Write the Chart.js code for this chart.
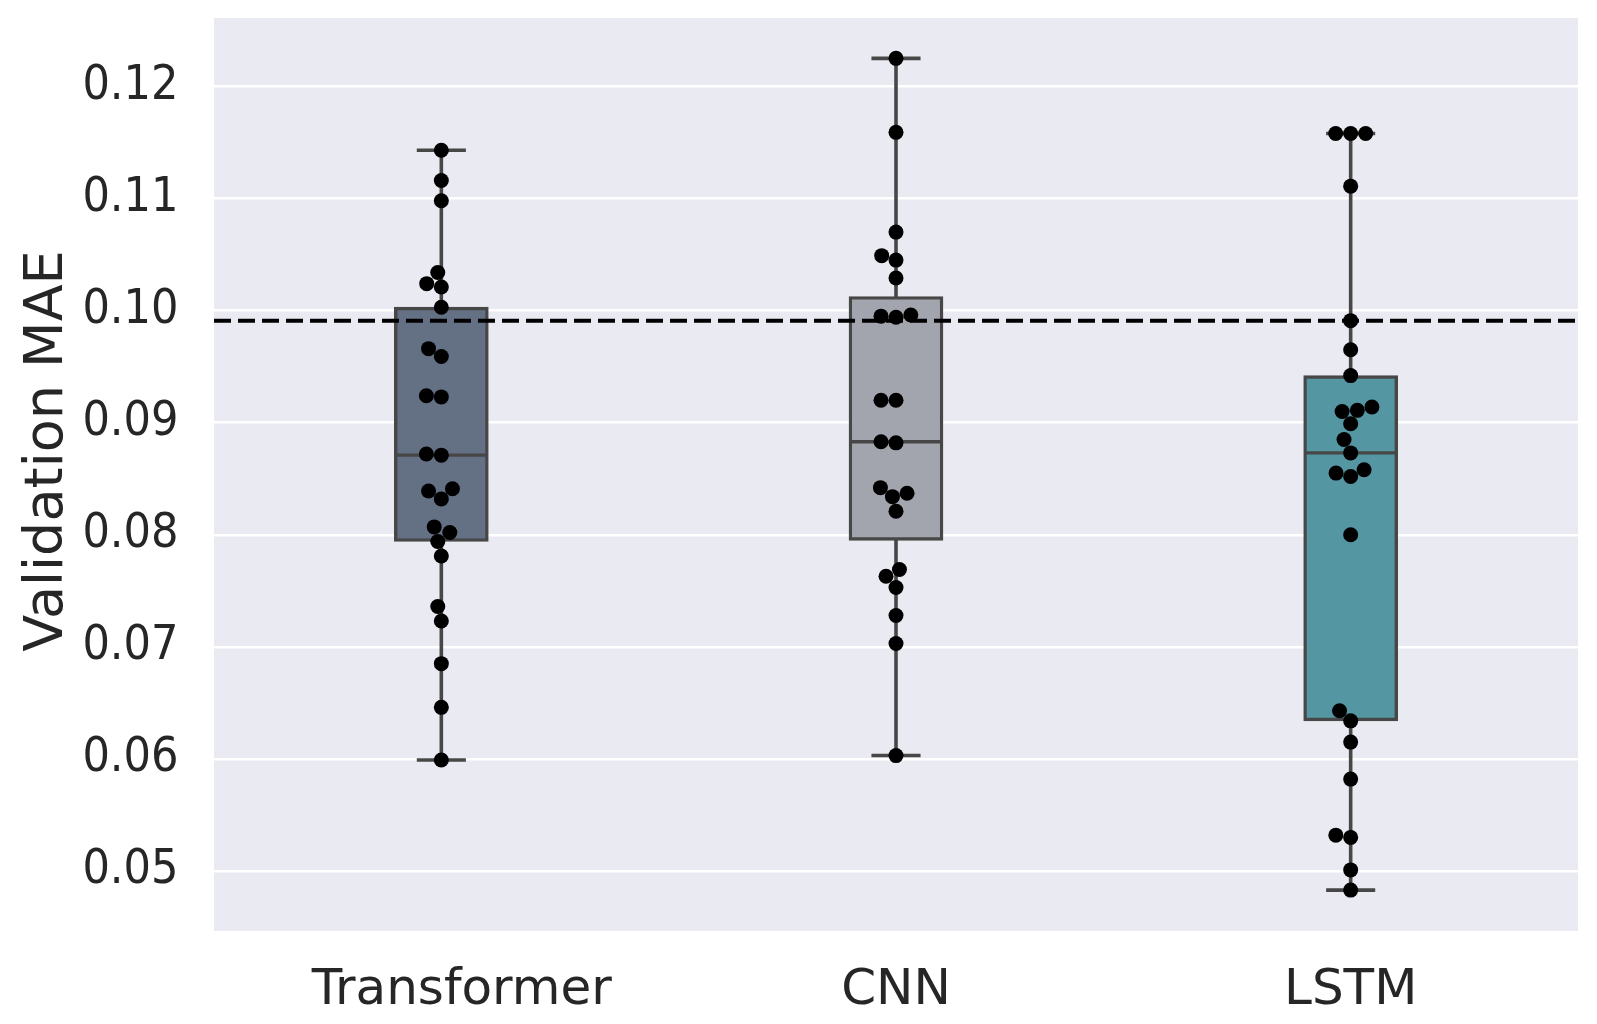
<!DOCTYPE html>
<html>
<head>
<meta charset="utf-8">
<title>Validation MAE</title>
<script src="https://cdn.jsdelivr.net/npm/chart.js@4.4.1/dist/chart.umd.min.js"></script>
<style>
  html, body { margin: 0; padding: 0; background: #fff; }
  #wrap { width: 1597px; height: 1024px; }
</style>
</head>
<body>
<div id="wrap"><canvas id="maeChart"></canvas></div>
<script>
// values
const models = ["Transformer", "CNN", "LSTM"];
const transformerMae = [0.1143, 0.1116, 0.1098, 0.1034, 0.1024, 0.1021, 0.1003, 0.0966, 0.0959,
  0.0924, 0.0923, 0.0872, 0.0871, 0.0841, 0.0839, 0.0832, 0.0807, 0.0802, 0.0794, 0.0781,
  0.0736, 0.0723, 0.0685, 0.0646, 0.0599];
const cnnMae = [0.1225, 0.1159, 0.1070, 0.1049, 0.1045, 0.1029, 0.0996, 0.0995, 0.0994,
  0.0920, 0.0920, 0.0883, 0.0882, 0.0842, 0.0837, 0.0834, 0.0821, 0.0769, 0.0763, 0.0753,
  0.0728, 0.0703, 0.0603];
const lstmMae = [0.1158, 0.1158, 0.1158, 0.1111, 0.0991, 0.0965, 0.0942, 0.0914, 0.0911,
  0.0910, 0.0899, 0.0885, 0.0873, 0.0858, 0.0855, 0.0852, 0.0800, 0.0643, 0.0634, 0.0615,
  0.0582, 0.0532, 0.0530, 0.0501, 0.0483];
const baselineMae = 0.0991;
const yTicks = [0.05, 0.06, 0.07, 0.08, 0.09, 0.10, 0.11, 0.12];
const yTickLabels = ["0.05", "0.06", "0.07", "0.08", "0.09", "0.10", "0.11", "0.12"];
const boxColors = ["#647084", "#a2a5ae", "#5497a3"];

const allSeries = [transformerMae, cnnMae, lstmMae];
const EDGE = "#474747";
const TEXT = "#262626";
const DOT_R = 7.5;
// the first category label sits a little right of its box in the original
const labelNudge = [0.045, 0, 0];

function quantile(sorted, q) {
  const pos = (sorted.length - 1) * q;
  const lo = Math.floor(pos), hi = Math.ceil(pos);
  return sorted[lo] + (sorted[hi] - sorted[lo]) * (pos - lo);
}

function boxStats(vals) {
  const s = vals.slice().sort((a, b) => a - b);
  const q1 = quantile(s, 0.25), med = quantile(s, 0.5), q3 = quantile(s, 0.75);
  const iqr = q3 - q1;
  const lo = s.find(v => v >= q1 - 1.5 * iqr);
  const hi = s.slice().reverse().find(v => v <= q3 + 1.5 * iqr);
  return { q1, med, q3, lo, hi };
}

const stats = allSeries.map(boxStats);
const capHalf = 0.054;
const medHalf = 0.1;

const datasets = [];

// swarm points (offsets filled in after layout)
allSeries.forEach((vals, i) => {
  datasets.push({
    type: "scatter", label: models[i] + " points", order: 0,
    data: vals.map(v => ({ x: i, y: v })),
    pointRadius: DOT_R, pointBackgroundColor: "#000", pointBorderWidth: 0,
    pointHoverRadius: DOT_R
  });
});
const pointSets = [0, 1, 2];

// dashed reference line
datasets.push({
  type: "scatter", label: "baseline", order: 1, showLine: true,
  data: [{ x: -0.5, y: baselineMae }, { x: 2.5, y: baselineMae }],
  borderColor: "#000", borderWidth: 4, borderDash: [17, 7], pointRadius: 0
});

// medians
stats.forEach((st, i) => {
  datasets.push({
    type: "scatter", label: models[i] + " median", order: 2, showLine: true,
    data: [{ x: i - medHalf, y: st.med }, { x: i + medHalf, y: st.med }],
    borderColor: EDGE, borderWidth: 3.4, pointRadius: 0
  });
});

// boxes
datasets.push({
  type: "bar", label: "boxes", order: 3,
  data: stats.map((st, i) => ({ x: i, y: [st.q1, st.q3] })),
  backgroundColor: boxColors, borderColor: EDGE, borderWidth: 3.4,
  borderSkipped: false, barThickness: 94
});

// whiskers + caps (drawn behind the boxes)
stats.forEach((st, i) => {
  datasets.push({
    type: "scatter", label: models[i] + " whiskers", order: 4, showLine: true,
    data: [
      { x: i - capHalf, y: st.lo }, { x: i + capHalf, y: st.lo }, { x: i, y: st.lo },
      { x: i, y: st.hi }, { x: i - capHalf, y: st.hi }, { x: i + capHalf, y: st.hi }
    ],
    borderColor: EDGE, borderWidth: 3.6, pointRadius: 0,
    borderJoinStyle: "bevel", borderCapStyle: "butt"
  });
});

const plotBg = {
  id: "plotBg",
  beforeDraw(chart) {
    const { ctx, chartArea: a } = chart;
    ctx.save();
    ctx.fillStyle = "#eaeaf2";
    ctx.fillRect(a.left, a.top, a.right - a.left, a.bottom - a.top);
    ctx.restore();
  }
};

const yTitle = {
  id: "yTitle",
  afterDraw(chart) {
    const ctx = chart.ctx;
    ctx.save();
    ctx.translate(62, 451);
    ctx.rotate(-Math.PI / 2);
    ctx.font = "54px 'DejaVu Sans'";
    ctx.fillStyle = TEXT;
    ctx.textAlign = "center";
    ctx.textBaseline = "alphabetic";
    ctx.fillText("Validation MAE", 0, 0);
    ctx.restore();
  }
};

const chart = new Chart(document.getElementById("maeChart"), {
  type: "bar",
  data: { datasets },
  plugins: [plotBg, yTitle],
  options: {
    responsive: true,
    maintainAspectRatio: false,
    animation: false,
    layout: { padding: { left: 0, top: 18, right: 19, bottom: 0 } },
    plugins: { legend: { display: false }, tooltip: { enabled: false } },
    scales: {
      x: {
        type: "linear", min: -0.5, max: 2.5, offset: false,
        grid: { display: false, drawTicks: false },
        border: { display: false },
        afterBuildTicks: s => { s.ticks = models.map((_, i) => ({ value: i + labelNudge[i] })); },
        afterFit: s => { s.height = 93; s.paddingLeft = 0; s.paddingRight = 0; },
        ticks: {
          padding: 30, color: TEXT,
          font: { family: "'DejaVu Sans'", size: 50 },
          callback: (v, idx) => models[idx]
        }
      },
      y: {
        type: "linear", min: 0.04465, max: 0.1261,
        grid: { color: "#ffffff", lineWidth: 2.5, drawTicks: false },
        border: { display: false },
        afterBuildTicks: s => { s.ticks = yTicks.map(v => ({ value: v })); },
        afterFit: s => { s.width = 214; s.paddingTop = 0; s.paddingBottom = 0; },
        ticks: {
          padding: 35.5, color: TEXT,
          font: { family: "'DejaVu Sans Condensed', 'DejaVu Sans'", size: 48 },
          callback: (v, idx) => yTickLabels[idx]
        }
      }
    }
  }
});

// beeswarm: place each point (lowest first) at the free spot closest to the centre
function placeSwarm(ch) {
  const xs = ch.scales.x, ys = ch.scales.y;
  const unit = xs.getPixelForValue(1) - xs.getPixelForValue(0);
  const d = DOT_R * 2;
  allSeries.forEach((vals, i) => {
    const idx = vals.map((_, k) => k).sort((a, b) => vals[a] - vals[b]);
    const placed = [];
    const out = new Array(vals.length);
    idx.forEach(k => {
      const py = ys.getPixelForValue(vals[k]);
      const near = placed.filter(p => Math.abs(p.py - py) < d);
      const cands = [0];
      near.forEach(p => {
        const dx = Math.sqrt(d * d - (p.py - py) ** 2);
        cands.push(p.px - dx, p.px + dx);
      });
      cands.sort((a, b) => Math.abs(a) - Math.abs(b));
      const px = cands.find(c => near.every(p => Math.hypot(p.px - c, p.py - py) >= d - 1e-6));
      placed.push({ px, py });
      out[k] = { x: i + px / unit, y: vals[k] };
    });
    ch.data.datasets[pointSets[i]].data = out;
  });
  ch.update("none");
}
placeSwarm(chart);
</script>
</body>
</html>
